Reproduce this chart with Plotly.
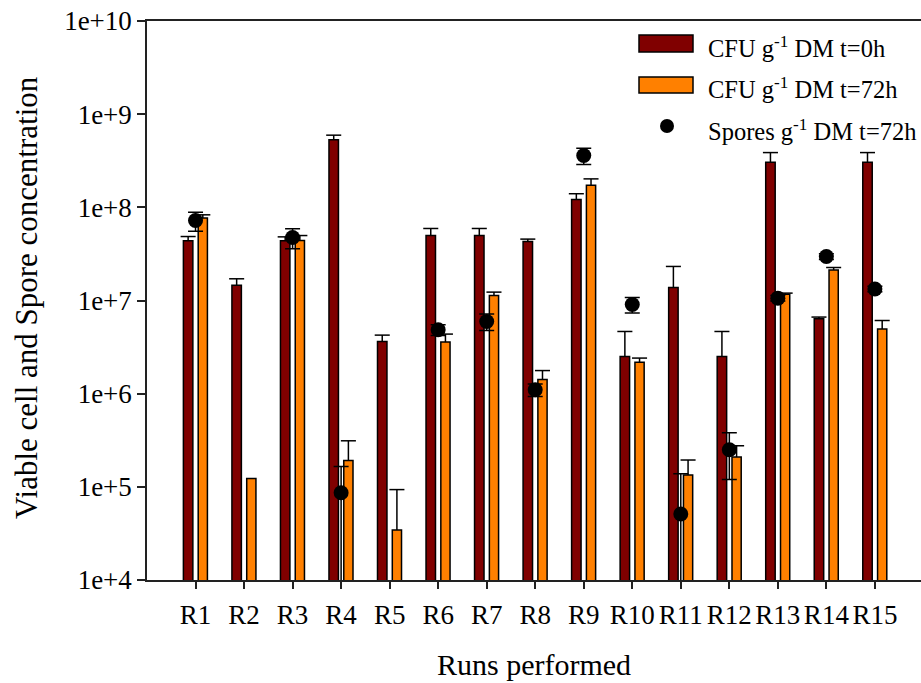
import plotly.graph_objects as go

# Runs and measured concentrations (per g dry matter)
runs = ["R1", "R2", "R3", "R4", "R5", "R6", "R7", "R8", "R9", "R10",
        "R11", "R12", "R13", "R14", "R15"]

cfu_0h = [4.37e7, 1.46e7, 4.37e7, 5.30e8, 3.63e6, 4.98e7, 4.98e7, 4.30e7,
          1.21e8, 2.51e6, 1.38e7, 2.51e6, 3.05e8, 6.37e6, 3.05e8]
cfu_0h_err = [4.9e6, 2.5e6, 4.5e6, 6.5e7, 6.2e5, 9.5e6, 9.5e6, 2.6e6,
              1.9e7, 2.14e6, 9.4e6, 2.14e6, 8.2e7, 2.7e5, 8.2e7]

cfu_72h = [7.66e7, 1.23e5, 4.40e7, 1.92e5, 3.44e4, 3.58e6, 1.13e7, 1.42e6,
           1.73e8, 2.18e6, 1.34e5, 2.09e5, 1.17e7, 2.13e7, 4.93e6]
cfu_72h_err = [6.5e6, 0, 5.8e6, 1.2e5, 5.9e4, 7.8e5, 1.0e6, 3.5e5,
               2.9e7, 2.3e5, 6.0e4, 6.7e4, 3.0e5, 1.3e6, 1.17e6]

spores_72h = [7.21e7, None, 4.74e7, 8.64e4, None, 4.85e6, 5.95e6, 1.10e6,
              3.60e8, 9.06e6, 5.11e4, 2.50e5, 1.06e7, 2.97e7, 1.33e7]
spores_72h_err = [1.67e7, None, 1.14e7, 7.9e4, None, 6.4e5, 1.2e6, 1.7e5,
                  7.2e7, 1.7e6, 8.7e4, 1.3e5, 7.0e5, 2.1e6, 9.0e5]

y_tickvals = [1e4, 1e5, 1e6, 1e7, 1e8, 1e9, 1e10]
y_ticktext = ["1e+4", "1e+5", "1e+6", "1e+7", "1e+8", "1e+9", "1e+10"]

DARK_RED = "#800000"
ORANGE = "#FF8000"
INK = "#222222"
FONT = "'Liberation Serif', 'Times New Roman', serif"

idx = list(range(len(runs)))

# bar geometry in category units
W0, OFF0 = 0.195, -0.25
W72, OFF72 = 0.19, 0.055
CAP = 0.155  # half-width of error caps


def upper_error_path(centers, values, errs):
    """Upward-only error whiskers with a cap, as one broken line."""
    xs, ys = [], []
    for xc, v, e in zip(centers, values, errs):
        if not e:
            continue
        top = v + e
        xs += [xc, xc, None, xc - CAP, xc + CAP, None]
        ys += [v, top, None, top, top, None]
    return xs, ys


fig = go.Figure()

fig.add_trace(go.Bar(
    x=idx, y=cfu_0h, width=W0, offset=OFF0,
    marker=dict(color=DARK_RED, line=dict(color="black", width=1.5)),
    name="CFU g-1 DM t=0h",
))
fig.add_trace(go.Bar(
    x=idx, y=cfu_72h, width=W72, offset=OFF72,
    marker=dict(color=ORANGE, line=dict(color="black", width=1.5)),
    name="CFU g-1 DM t=72h",
))

c0 = [i + OFF0 + W0 / 2 for i in idx]
c72 = [i + OFF72 + W72 / 2 for i in idx]
for centers, vals, errs in ((c0, cfu_0h, cfu_0h_err), (c72, cfu_72h, cfu_72h_err)):
    ex, ey = upper_error_path(centers, vals, errs)
    fig.add_trace(go.Scatter(x=ex, y=ey, mode="lines",
                             line=dict(color="black", width=1.5),
                             hoverinfo="skip", showlegend=False))

fig.add_trace(go.Scatter(
    x=idx, y=spores_72h, mode="markers",
    marker=dict(color="black", size=15),
    error_y=dict(type="data", array=spores_72h_err, symmetric=True,
                 color="black", thickness=1.5, width=7.5),
    name="Spores g-1 DM t=72h",
))

X0, Y0, PW, PH = 147, 21, 774, 559  # plot box in pixels


def px(x):
    return (x - X0) / PW


def py(y):
    return (Y0 + PH - y) / PH


# legend drawn as shapes + text
shapes = [
    dict(type="rect", xref="paper", yref="paper",
         x0=px(639), x1=px(693), y0=py(52), y1=py(35),
         fillcolor=DARK_RED, line=dict(color="black", width=1.5)),
    dict(type="rect", xref="paper", yref="paper",
         x0=px(639), x1=px(693), y0=py(93), y1=py(77),
         fillcolor=ORANGE, line=dict(color="black", width=1.5)),
    dict(type="circle", xref="paper", yref="paper",
         x0=px(660), x1=px(674), y0=py(133), y1=py(119),
         fillcolor="black", line=dict(color="black", width=0)),
]

legend_labels = ["CFU g<sup>-1</sup> DM t=0h",
                 "CFU g<sup>-1</sup> DM t=72h",
                 "Spores g<sup>-1</sup> DM t=72h"]
legend_rows = [47, 88, 130]
annotations = []
for lab, yr in zip(legend_labels, legend_rows):
    annotations.append(dict(
        text=lab, xref="paper", yref="paper", x=px(706), y=py(yr),
        xanchor="left", yanchor="middle", showarrow=False,
        font=dict(family=FONT, size=24.5, color="black")))

annotations.append(dict(
    text="Runs performed", xref="paper", yref="paper",
    x=px(534), y=py(683), xanchor="center", yanchor="bottom",
    showarrow=False, font=dict(family=FONT, size=30, color="black")))
annotations.append(dict(
    text="Viable cell and Spore concentration", xref="paper", yref="paper",
    x=px(26), y=py(298), xanchor="center", yanchor="middle", textangle=-90,
    showarrow=False, font=dict(family=FONT, size=31, color="black")))

fig.update_layout(
    width=921, height=683,
    margin=dict(l=X0, r=0, t=Y0, b=683 - Y0 - PH, pad=0),
    paper_bgcolor="white", plot_bgcolor="white",
    barmode="overlay", showlegend=False,
    font=dict(family=FONT, size=27, color="black"),
    shapes=shapes, annotations=annotations,
    xaxis=dict(
        range=[-1, 14.95], tickmode="array", tickvals=idx, ticktext=runs,
        showgrid=False, zeroline=False, showline=True, mirror=True,
        linecolor=INK, linewidth=1.5, ticks="outside", ticklen=7,
        tickcolor=INK, tickwidth=1.5, ticklabelstandoff=3,
        tickfont=dict(family=FONT, size=27, color="black"),
    ),
    yaxis=dict(
        type="log", range=[4, 10], tickmode="array",
        tickvals=y_tickvals, ticktext=y_ticktext,
        showgrid=False, zeroline=False, showline=True,
        linecolor=INK, linewidth=1.5, ticks="outside", ticklen=8,
        tickcolor=INK, tickwidth=1.5,
        tickfont=dict(family=FONT, size=27, color="black"),
    ),
)

fig.write_html("out.html")
